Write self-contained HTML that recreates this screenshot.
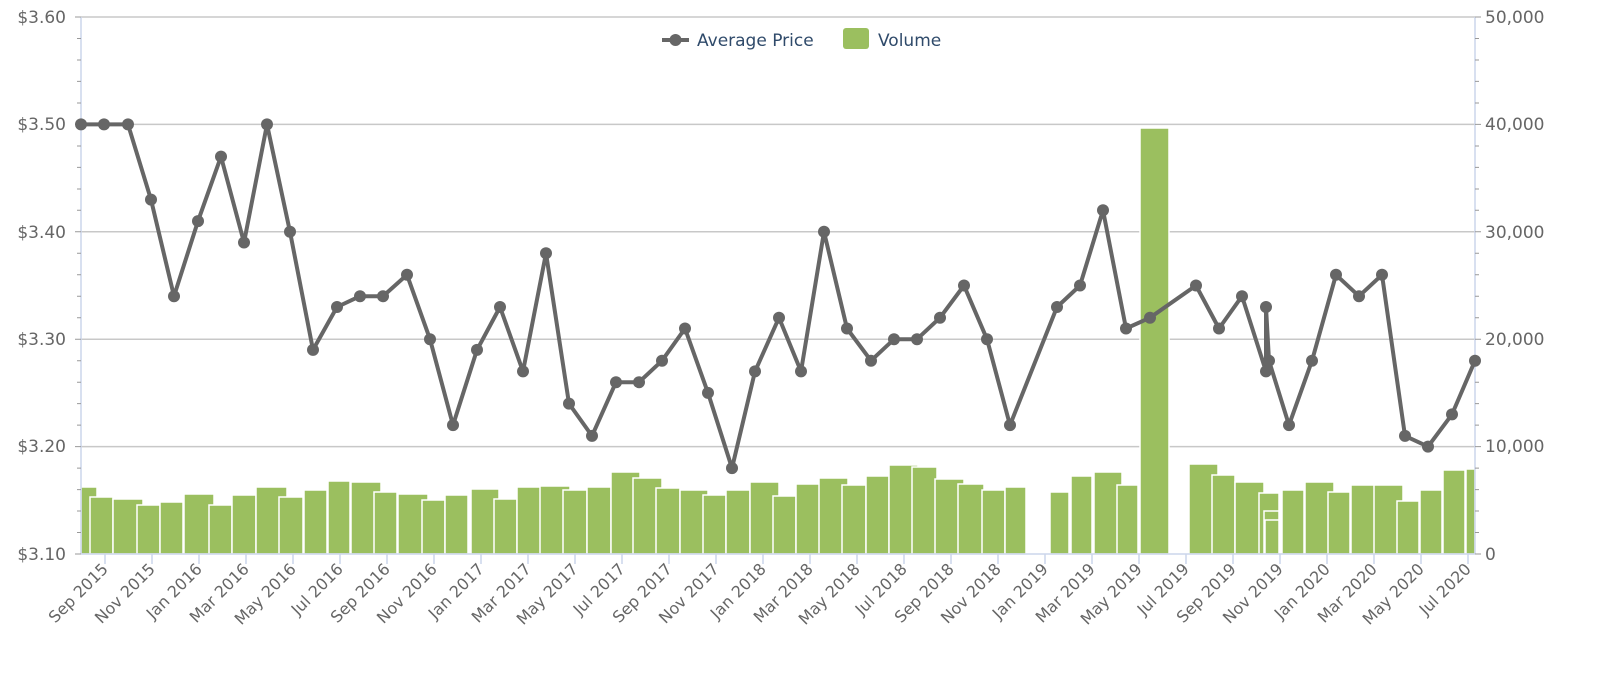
<!DOCTYPE html>
<html><head><meta charset="utf-8"><style>
html,body{margin:0;padding:0;background:#fff;}
svg{display:block;font-family:"DejaVu Sans","Liberation Sans",sans-serif;}
</style></head><body>
<svg width="1600" height="674" viewBox="0 0 1600 674">
<g stroke="#c8c8c8" stroke-width="1.5">
<line x1="81" y1="17" x2="1475" y2="17"/>
<line x1="81" y1="124.4" x2="1475" y2="124.4"/>
<line x1="81" y1="231.8" x2="1475" y2="231.8"/>
<line x1="81" y1="339.2" x2="1475" y2="339.2"/>
<line x1="81" y1="446.6" x2="1475" y2="446.6"/>
</g>
<g fill="#9bbf5f" stroke="#fff" stroke-width="1.5">
<rect x="81" y="487" width="16" height="67"/>
<rect x="90" y="497" width="23" height="57"/>
<rect x="113" y="499" width="30" height="55"/>
<rect x="137" y="505" width="23" height="49"/>
<rect x="160" y="502" width="23" height="52"/>
<rect x="184" y="494" width="30" height="60"/>
<rect x="209" y="505" width="23" height="49"/>
<rect x="232" y="495" width="24" height="59"/>
<rect x="256" y="487" width="31" height="67"/>
<rect x="279" y="497" width="24" height="57"/>
<rect x="304" y="490" width="23" height="64"/>
<rect x="328" y="481" width="22" height="73"/>
<rect x="351" y="482" width="30" height="72"/>
<rect x="374" y="492" width="23" height="62"/>
<rect x="398" y="494" width="30" height="60"/>
<rect x="422" y="500" width="23" height="54"/>
<rect x="445" y="495" width="23" height="59"/>
<rect x="471" y="489" width="28" height="65"/>
<rect x="494" y="499" width="23" height="55"/>
<rect x="517" y="487" width="24" height="67"/>
<rect x="540" y="486" width="30" height="68"/>
<rect x="563" y="490" width="24" height="64"/>
<rect x="587" y="487" width="24" height="67"/>
<rect x="611" y="472" width="29" height="82"/>
<rect x="633" y="478" width="29" height="76"/>
<rect x="656" y="488" width="24" height="66"/>
<rect x="680" y="490" width="28" height="64"/>
<rect x="703" y="495" width="23" height="59"/>
<rect x="726" y="490" width="24" height="64"/>
<rect x="750" y="482" width="29" height="72"/>
<rect x="773" y="496" width="23" height="58"/>
<rect x="796" y="484" width="24" height="70"/>
<rect x="819" y="478" width="29" height="76"/>
<rect x="842" y="485" width="24" height="69"/>
<rect x="866" y="476" width="23" height="78"/>
<rect x="889" y="465" width="29" height="89"/>
<rect x="912" y="467" width="25" height="87"/>
<rect x="935" y="479" width="29" height="75"/>
<rect x="958" y="484" width="26" height="70"/>
<rect x="982" y="490" width="23" height="64"/>
<rect x="1005" y="487" width="21" height="67"/>
<rect x="1050" y="492" width="19" height="62"/>
<rect x="1071" y="476" width="21" height="78"/>
<rect x="1094" y="472" width="28" height="82"/>
<rect x="1117" y="485" width="21" height="69"/>
<rect x="1140" y="128" width="29" height="426"/>
<rect x="1189" y="464" width="29" height="90"/>
<rect x="1212" y="475" width="23" height="79"/>
<rect x="1235" y="482" width="29" height="72"/>
<rect x="1259" y="493" width="20" height="61"/>
<rect x="1264" y="511" width="15" height="43"/>
<rect x="1265" y="520" width="14" height="34"/>
<rect x="1282" y="490" width="22" height="64"/>
<rect x="1305" y="482" width="29" height="72"/>
<rect x="1328" y="492" width="22" height="62"/>
<rect x="1351" y="485" width="29" height="69"/>
<rect x="1374" y="485" width="29" height="69"/>
<rect x="1397" y="501" width="22" height="53"/>
<rect x="1420" y="490" width="22" height="64"/>
<rect x="1443" y="470" width="22" height="84"/>
<rect x="1466" y="469" width="9" height="85"/>
</g>
<g stroke="#ccd6eb" stroke-width="1.5">
<line x1="81" y1="17" x2="81" y2="554"/>
<line x1="1475" y1="17" x2="1475" y2="554"/>
<line x1="81" y1="554" x2="1475" y2="554"/>
</g>
<g stroke="#999" stroke-width="1">
<path d="M75 17h6M75 124.4h6M75 231.8h6M75 339.2h6M75 446.6h6M75 554h6M77 38.5h4M77 60h4M77 81.4h4M77 103h4M77 146h4M77 167.4h4M77 189h4M77 210.3h4M77 253.3h4M77 274.8h4M77 296.3h4M77 317.7h4M77 360.7h4M77 382.2h4M77 403.6h4M77 425.1h4M77 468.1h4M77 489.6h4M77 511h4M77 532.5h4"/>
<path d="M1475 17h6M1475 124.4h6M1475 231.8h6M1475 339.2h6M1475 446.6h6M1475 554h6M1475 38.5h4M1475 60h4M1475 81.4h4M1475 103h4M1475 146h4M1475 167.4h4M1475 189h4M1475 210.3h4M1475 253.3h4M1475 274.8h4M1475 296.3h4M1475 317.7h4M1475 360.7h4M1475 382.2h4M1475 403.6h4M1475 425.1h4M1475 468.1h4M1475 489.6h4M1475 511h4M1475 532.5h4"/>
</g>
<g stroke="#ccd6eb" stroke-width="1.5">
<path d="M105 554v10M152 554v10M199 554v10M246 554v10M293 554v10M340 554v10M387 554v10M434 554v10M481 554v10M528 554v10M575 554v10M622 554v10M669 554v10M716 554v10M763 554v10M810 554v10M857 554v10M904 554v10M951 554v10M998 554v10M1045 554v10M1092 554v10M1139 554v10M1186 554v10M1233 554v10M1280 554v10M1327 554v10M1374 554v10M1421 554v10M1468 554v10"/>
</g>
<polyline fill="none" stroke="#666" stroke-width="4" stroke-linejoin="round" points="81,124.4 104,124.4 128,124.4 151,199.6 174,296.2 198,221.1 221,156.6 244,242.5 267,124.4 290,231.8 313,349.9 337,307 360,296.2 383,296.2 407,274.8 430,339.2 453,425.1 477,349.9 500,307 523,371.4 546,253.3 569,403.6 592,435.9 616,382.2 639,382.2 662,360.7 685,328.5 708,392.9 732,468.1 755,371.4 779,317.7 801,371.4 824,231.8 847,328.5 871,360.7 894,339.2 917,339.2 940,317.7 964,285.5 987,339.2 1010,425.1 1057,307 1080,285.5 1103,210.3 1126,328.5 1150,317.7 1196,285.5 1219,328.5 1242,296.2 1266,371.4 1266,307 1269,360.7 1289,425.1 1312,360.7 1336,274.8 1359,296.2 1382,274.8 1405,435.9 1428,446.6 1452,414.4 1475,360.7"/>
<g fill="#666">
<circle cx="81" cy="124.4" r="6"/><circle cx="104" cy="124.4" r="6"/><circle cx="128" cy="124.4" r="6"/><circle cx="151" cy="199.6" r="6"/><circle cx="174" cy="296.2" r="6"/><circle cx="198" cy="221.1" r="6"/><circle cx="221" cy="156.6" r="6"/><circle cx="244" cy="242.5" r="6"/><circle cx="267" cy="124.4" r="6"/><circle cx="290" cy="231.8" r="6"/><circle cx="313" cy="349.9" r="6"/><circle cx="337" cy="307" r="6"/><circle cx="360" cy="296.2" r="6"/><circle cx="383" cy="296.2" r="6"/><circle cx="407" cy="274.8" r="6"/><circle cx="430" cy="339.2" r="6"/><circle cx="453" cy="425.1" r="6"/><circle cx="477" cy="349.9" r="6"/><circle cx="500" cy="307" r="6"/><circle cx="523" cy="371.4" r="6"/><circle cx="546" cy="253.3" r="6"/><circle cx="569" cy="403.6" r="6"/><circle cx="592" cy="435.9" r="6"/><circle cx="616" cy="382.2" r="6"/><circle cx="639" cy="382.2" r="6"/><circle cx="662" cy="360.7" r="6"/><circle cx="685" cy="328.5" r="6"/><circle cx="708" cy="392.9" r="6"/><circle cx="732" cy="468.1" r="6"/><circle cx="755" cy="371.4" r="6"/><circle cx="779" cy="317.7" r="6"/><circle cx="801" cy="371.4" r="6"/><circle cx="824" cy="231.8" r="6"/><circle cx="847" cy="328.5" r="6"/><circle cx="871" cy="360.7" r="6"/><circle cx="894" cy="339.2" r="6"/><circle cx="917" cy="339.2" r="6"/><circle cx="940" cy="317.7" r="6"/><circle cx="964" cy="285.5" r="6"/><circle cx="987" cy="339.2" r="6"/><circle cx="1010" cy="425.1" r="6"/><circle cx="1057" cy="307" r="6"/><circle cx="1080" cy="285.5" r="6"/><circle cx="1103" cy="210.3" r="6"/><circle cx="1126" cy="328.5" r="6"/><circle cx="1150" cy="317.7" r="6"/><circle cx="1196" cy="285.5" r="6"/><circle cx="1219" cy="328.5" r="6"/><circle cx="1242" cy="296.2" r="6"/><circle cx="1266" cy="371.4" r="6"/><circle cx="1266" cy="307" r="6"/><circle cx="1269" cy="360.7" r="6"/><circle cx="1289" cy="425.1" r="6"/><circle cx="1312" cy="360.7" r="6"/><circle cx="1336" cy="274.8" r="6"/><circle cx="1359" cy="296.2" r="6"/><circle cx="1382" cy="274.8" r="6"/><circle cx="1405" cy="435.9" r="6"/><circle cx="1428" cy="446.6" r="6"/><circle cx="1452" cy="414.4" r="6"/><circle cx="1475" cy="360.7" r="6"/>
</g>
<g fill="#666" font-size="17" text-anchor="end">
<text x="66" y="23">$3.60</text><text x="66" y="130">$3.50</text><text x="66" y="238">$3.40</text><text x="66" y="345">$3.30</text><text x="66" y="452">$3.20</text><text x="66" y="560">$3.10</text>
</g>
<g fill="#666" font-size="17" text-anchor="start">
<text x="1485" y="23">50,000</text><text x="1485" y="130">40,000</text><text x="1485" y="238">30,000</text><text x="1485" y="345">20,000</text><text x="1485" y="452">10,000</text><text x="1485" y="560">0</text>
</g>
<g fill="#666" font-size="16" text-anchor="end">
<text transform="translate(109,570) rotate(-45)">Sep 2015</text>
<text transform="translate(156,570) rotate(-45)">Nov 2015</text>
<text transform="translate(203,570) rotate(-45)">Jan 2016</text>
<text transform="translate(250,570) rotate(-45)">Mar 2016</text>
<text transform="translate(297,570) rotate(-45)">May 2016</text>
<text transform="translate(344,570) rotate(-45)">Jul 2016</text>
<text transform="translate(391,570) rotate(-45)">Sep 2016</text>
<text transform="translate(438,570) rotate(-45)">Nov 2016</text>
<text transform="translate(485,570) rotate(-45)">Jan 2017</text>
<text transform="translate(532,570) rotate(-45)">Mar 2017</text>
<text transform="translate(579,570) rotate(-45)">May 2017</text>
<text transform="translate(626,570) rotate(-45)">Jul 2017</text>
<text transform="translate(673,570) rotate(-45)">Sep 2017</text>
<text transform="translate(720,570) rotate(-45)">Nov 2017</text>
<text transform="translate(767,570) rotate(-45)">Jan 2018</text>
<text transform="translate(814,570) rotate(-45)">Mar 2018</text>
<text transform="translate(861,570) rotate(-45)">May 2018</text>
<text transform="translate(908,570) rotate(-45)">Jul 2018</text>
<text transform="translate(955,570) rotate(-45)">Sep 2018</text>
<text transform="translate(1002,570) rotate(-45)">Nov 2018</text>
<text transform="translate(1049,570) rotate(-45)">Jan 2019</text>
<text transform="translate(1096,570) rotate(-45)">Mar 2019</text>
<text transform="translate(1143,570) rotate(-45)">May 2019</text>
<text transform="translate(1190,570) rotate(-45)">Jul 2019</text>
<text transform="translate(1237,570) rotate(-45)">Sep 2019</text>
<text transform="translate(1284,570) rotate(-45)">Nov 2019</text>
<text transform="translate(1331,570) rotate(-45)">Jan 2020</text>
<text transform="translate(1378,570) rotate(-45)">Mar 2020</text>
<text transform="translate(1425,570) rotate(-45)">May 2020</text>
<text transform="translate(1472,570) rotate(-45)">Jul 2020</text>
</g>
<g>
<line x1="662" y1="40" x2="689" y2="40" stroke="#666" stroke-width="4"/>
<circle cx="675.5" cy="40" r="6" fill="#666"/>
<text x="697" y="46" fill="#2f4a6a" font-size="17">Average Price</text>
<rect x="843" y="28" width="26" height="21" rx="3" fill="#9bbf5f"/>
<text x="878" y="46" fill="#2f4a6a" font-size="17">Volume</text>
</g>
</svg>
</body></html>
